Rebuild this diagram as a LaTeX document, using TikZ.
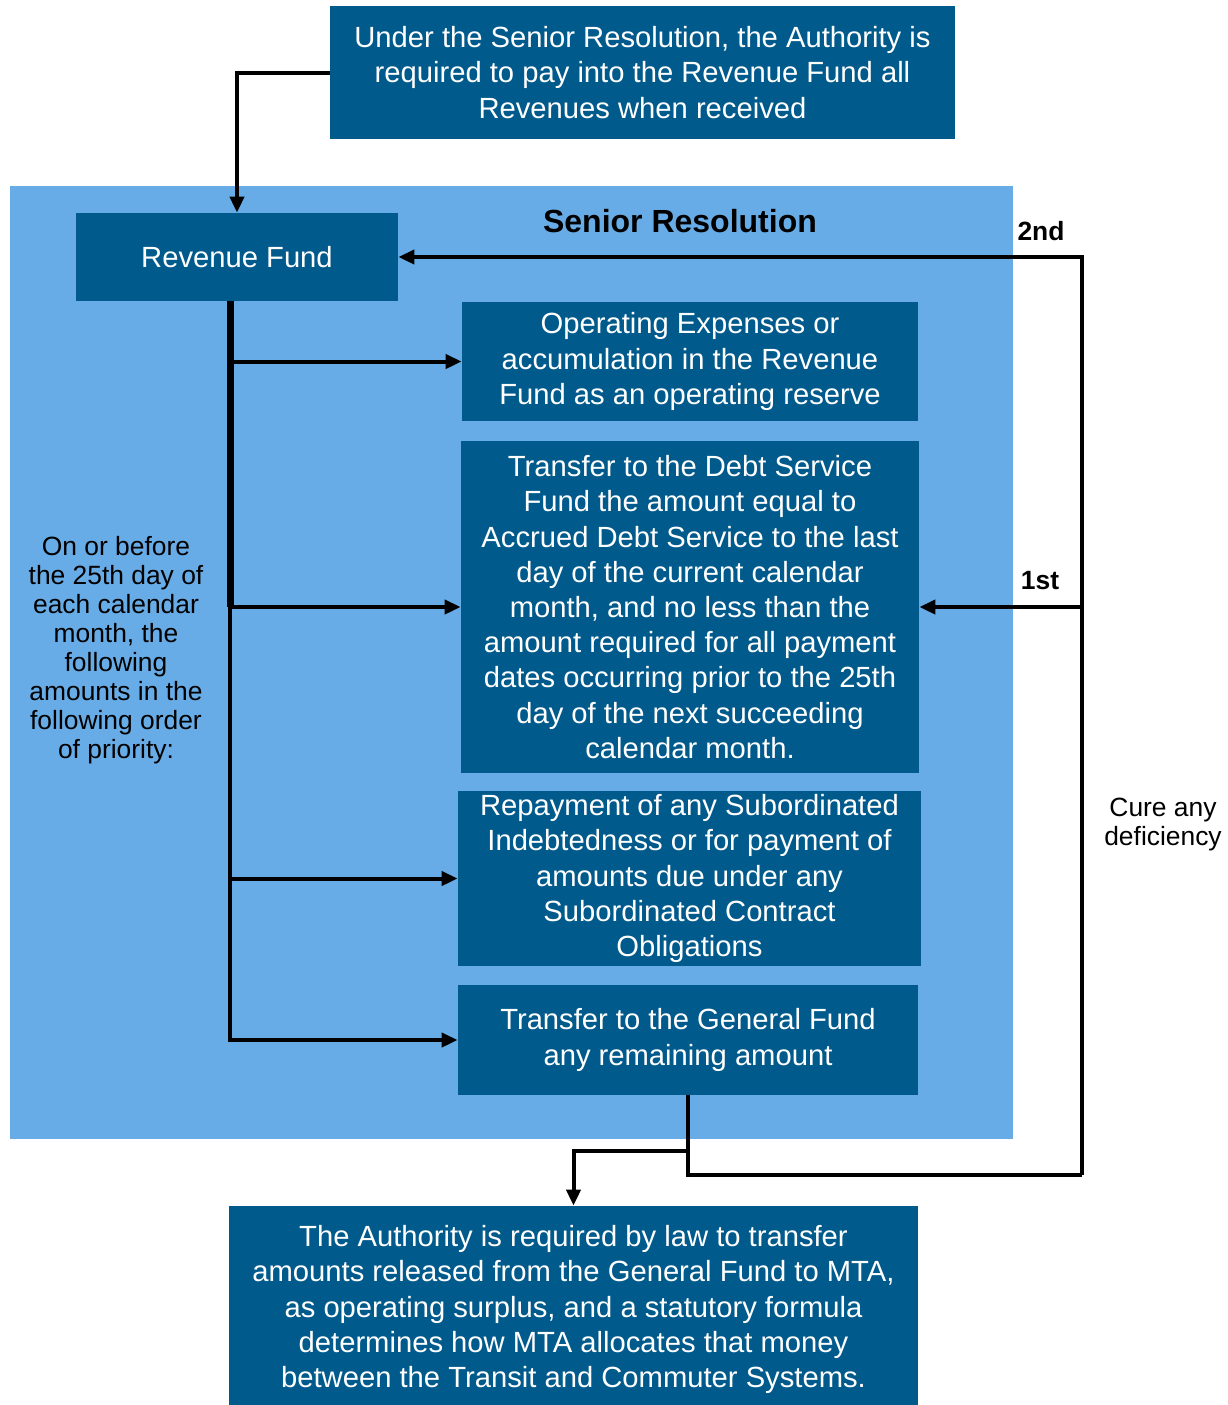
\documentclass[tikz,border=0pt]{standalone}
\usepackage{fontspec}
\setmainfont{Liberation Sans}
\usetikzlibrary{arrows.meta}

\definecolor{fundblue}{RGB}{0,90,140}
\definecolor{seniorblue}{RGB}{103,172,230}

\tikzset{
  fundbox/.style={fill=fundblue, text=white, align=center, inner sep=0pt,
    font=\fontsize{14.6}{17.6}\selectfont},
  plainnote/.style={align=center, inner sep=0pt, font=\fontsize{13.2}{14.5}\selectfont},
  ranknote/.style={inner sep=0pt, font=\bfseries\fontsize{13.2}{15}\selectfont},
  flow/.style={line width=2pt, -{Triangle[length=8pt,width=7pt]}},
  link/.style={line width=2pt}
}

\begin{document}
\begin{tikzpicture}[x=0.5pt,y=0.5pt,yscale=-1,xscale=1]
\useasboundingbox (0,0) rectangle (1228,1405);

%Shape: Senior Resolution area
\fill [seniorblue] (10,186) rectangle (1013,1139);
\node (seniortitle) [inner sep=0pt, font=\bfseries\fontsize{16}{18}\selectfont] at (680,221) {Senior Resolution};

% Fund boxes
\node (authority) [fundbox, minimum width=312.5pt, minimum height=66.5pt] at (642.5,72.5)
  {Under the Senior Resolution, the Authority is\\required to pay into the Revenue Fund all\\Revenues when received};
\node (revfund) [fundbox, minimum width=161pt, minimum height=44pt] at (237,257) {Revenue Fund};
\node (opex) [fundbox, minimum width=228pt, minimum height=59.5pt] at (690,361.5)
  {Operating Expenses or\\accumulation in the Revenue\\Fund as an operating reserve};
\node (debtsvc) [fundbox, minimum width=229pt, minimum height=166pt] at (690,607)
  {Transfer to the Debt Service\\Fund the amount equal to\\Accrued Debt Service to the last\\day of the current calendar\\month, and no less than the\\amount required for all payment\\dates occurring prior to the 25th\\day of the next succeeding\\calendar month.};
\node (subord) [fundbox, minimum width=231.5pt, minimum height=87.5pt] at (689.5,878.5)
  {Repayment of any Subordinated\\Indebtedness or for payment of\\amounts due under any\\Subordinated Contract\\Obligations};
\node (genfund) [fundbox, minimum width=230pt, minimum height=55pt] at (688,1040)
  {Transfer to the General Fund\\any remaining amount};
\node (mtatransfer) [fundbox, minimum width=344.5pt, minimum height=99.5pt] at (573.5,1305.5) {};
\node (mtatext) [fundbox, fill=none] at (573.5,1309.5)
  {The Authority is required by law to transfer\\amounts released from the General Fund to MTA,\\as operating surplus, and a statutory formula\\determines how MTA allocates that money\\between the Transit and Commuter Systems.};

% Text Node
\node (priority) [plainnote] at (116,650)
  {On or before\\the 25th day of\\each calendar\\month, the\\following\\amounts in the\\following order\\of priority:};
\node (cure) [plainnote] at (1163,825) {Cure any\\deficiency};
\node (second) [ranknote] at (1041,231) {2nd};
\node (first) [ranknote] at (1040,581) {1st};

% Connectors
\coordinate (trunktop) at (230,301);
\coordinate (trunkmid) at (230,607);
\coordinate (loopcorner) at (1082,1175);
\coordinate (split) at (688,1151);

\draw [flow] (authority.west) -| (revfund.north);
\draw [line width=3.5pt] (trunktop) -- (trunkmid);
\draw [link, line cap=rect] (trunkmid) -- (genfund.west -| trunktop);
\draw [flow] (opex.west -| trunktop) -- (opex.west);
\draw [flow] (debtsvc.west -| trunktop) -- (debtsvc.west);
\draw [flow] (subord.west -| trunktop) -- (subord.west);
\draw [flow] (genfund.west -| trunktop) -- (genfund.west);

\draw [link] (genfund.south) |- (loopcorner);
\draw [flow] (loopcorner) |- (revfund.east);
\draw [flow] (debtsvc.east -| loopcorner) -- (debtsvc.east);
\draw [flow] (split) -| (mtatransfer.north);

\end{tikzpicture}
\end{document}
